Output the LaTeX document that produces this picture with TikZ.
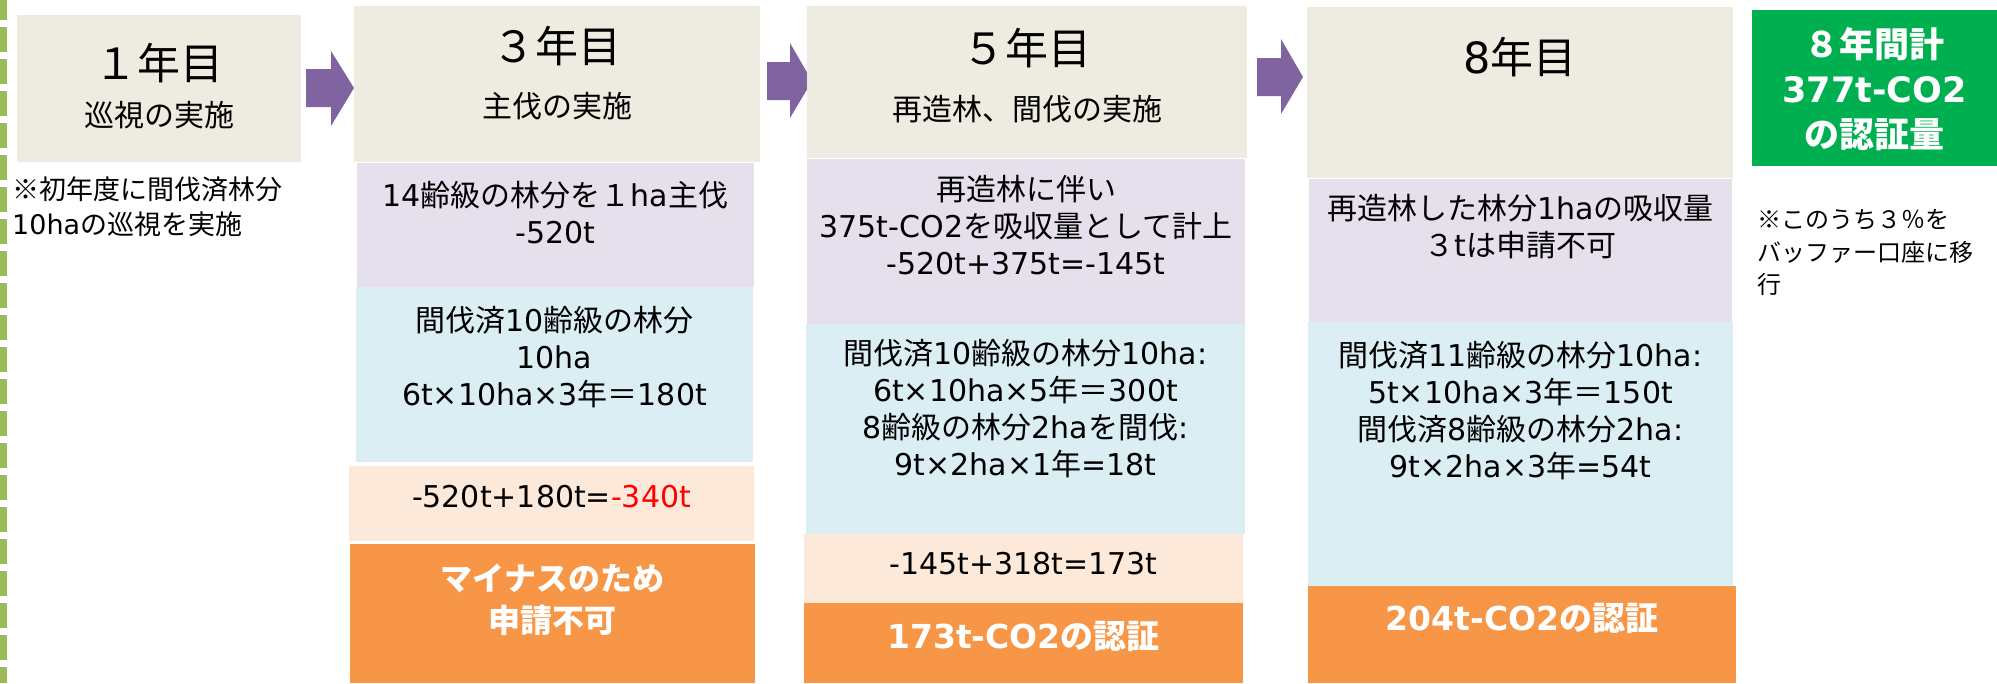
\documentclass[tikz,border=0pt]{standalone}
\usepackage{fontspec}
\setmainfont{Noto Sans CJK JP}
\newfontfamily\lat{DejaVu Sans}
\newcommand\LL[1]{{\lat #1}}
\newcommand\fsz[2]{\fontsize{#1}{#2}\selectfont}
\definecolor{hdr}{HTML}{EEECE1}
\definecolor{pur}{HTML}{E5E0EC}
\definecolor{blu}{HTML}{DAEEF3}
\definecolor{pea}{HTML}{FDE9D9}
\definecolor{ora}{HTML}{F79646}
\definecolor{grn}{HTML}{00B050}
\definecolor{arr}{HTML}{8064A2}
\definecolor{dsh}{HTML}{9BBB59}
\begin{document}
\begin{tikzpicture}[x=1pt,y=-1pt,
  txt/.style={inner sep=0pt, outer sep=0pt, align=center, font=\fsz{30}{37}},
  hnum/.style={inner sep=0pt, font=\fsz{43}{48}},
  hsub/.style={inner sep=0pt, font=\fsz{30}{36}},
  bigw/.style={inner sep=0pt, align=center, text=white, font=\fsz{32}{42}\bfseries},
  notel/.style={inner sep=0pt, align=left, anchor=west},
  blockarrow/.style={fill=arr}
]
\useasboundingbox (0,0) rectangle (1997,683);
\fill[white] (0,0) rectangle (1997,683);

% left dashed line
\draw[dsh, line width=6.5pt, dash pattern=on 24.5pt off 7.5pt, dash phase=5pt] (3.25,0) -- (3.25,683);

% ---------- Year 1 ----------
\fill[hdr] (17,15) rectangle (301,162);
\node[hnum] (y1num) at (159,63) {１年目};
\node[hsub] (y1sub) at (159,115) {巡視の実施};
\node[notel, font=\fsz{27}{35}] (y1note) at (12,206.5) {※初年度に間伐済林分\\\LL{10ha}の巡視を実施};

% arrow 1
\fill[blockarrow] (306,69) -- (331,69) -- (331,51) -- (354,88) -- (331,126) -- (331,107) -- (306,107) -- cycle;

% ---------- Year 3 ----------
\fill[hdr] (354,6) rectangle (760,162);
\node[hnum] (y3num) at (557,46) {３年目};
\node[hsub] (y3sub) at (557,106) {主伐の実施};
\fill[pur] (357,163) rectangle (754,287);
\node[txt] (y3p) at (555.5,212.5) {\LL{14}齢級の林分を１\LL{ha}主伐\\\LL{-520t}};
\fill[blu] (356,287) rectangle (753,462);
\node[txt] (y3b) at (554.5,357) {間伐済\LL{10}齢級の林分\\\LL{10ha}\\\LL{6t×10ha×3}年＝\LL{180t}};
\fill[pea] (349,466) rectangle (754,541);
\node[txt] (y3c) at (551.5,497) {\LL{-520t+180t=\textcolor{red}{-340t}}};
\fill[ora] (350,544) rectangle (755,683);
\node[bigw] (y3r) at (552.5,600) {マイナスのため\\申請不可};

% arrow 2
\fill[blockarrow] (767,62) -- (790,62) -- (790,43) -- (812,81) -- (790,118) -- (790,100) -- (767,100) -- cycle;

% ---------- Year 5 ----------
\fill[hdr] (807,6) rectangle (1247,158);
\node[hnum] (y5num) at (1027,48) {５年目};
\node[hsub] (y5sub) at (1027,109) {再造林、間伐の実施};
\fill[pur] (807,159) rectangle (1245,324);
\node[txt] (y5p) at (1026,225) {再造林に伴い\\\LL{375t-CO2}を吸収量として計上\\\LL{-520t+375t=-145t}};
\fill[blu] (806,324) rectangle (1245,534);
\node[txt] (y5b) at (1025.5,408.5) {間伐済\LL{10}齢級の林分\LL{10ha:}\\\LL{6t×10ha×5}年＝\LL{300t}\\\LL{8}齢級の林分\LL{2ha}を間伐\LL{:}\\\LL{9t×2ha×1}年\LL{=18t}};
\fill[pea] (804,534) rectangle (1243,603);
\node[txt] (y5c) at (1023.5,564) {\LL{-145t+318t=173t}};
\fill[ora] (804,603) rectangle (1243,683);
\node[bigw, font=\fsz{33}{42}\bfseries] (y5r) at (1023.5,636) {\LL{173t-CO2}の認証};

% arrow 3
\fill[blockarrow] (1257,58) -- (1281,58) -- (1281,39) -- (1303,77) -- (1281,114) -- (1281,96) -- (1257,96) -- cycle;

% ---------- Year 8 ----------
\fill[hdr] (1307,7) rectangle (1733,178);
\node[hnum] (y8num) at (1520,57) {\LL{8}年目};
\fill[pur] (1309,179) rectangle (1732,322);
\node[txt] (y8p) at (1520.5,227) {再造林した林分\LL{1ha}の吸収量\\３\LL{t}は申請不可};
\fill[blu] (1308,322) rectangle (1733,586);
\node[txt] (y8b) at (1520.5,410.5) {間伐済\LL{11}齢級の林分\LL{10ha:}\\\LL{5t×10ha×3}年＝\LL{150t}\\間伐済\LL{8}齢級の林分\LL{2ha:}\\\LL{9t×2ha×3}年\LL{=54t}};
\fill[ora] (1308,586) rectangle (1736,683);
\node[bigw, font=\fsz{33}{42}\bfseries] (y8r) at (1522,618) {\LL{204t-CO2}の認証};

% ---------- Total ----------
\fill[grn] (1752,10) rectangle (1997,166);
\node[inner sep=0pt, align=center, text=white, font=\fsz{35}{45}\bfseries] (tot) at (1874.5,89) {８年間計\\\LL{377t-CO2}\\の認証量};
\node[notel, font=\fsz{24}{32.5}] (totnote) at (1757,252.5) {※このうち３％を\\バッファー口座に移\\行};
\end{tikzpicture}
\end{document}
